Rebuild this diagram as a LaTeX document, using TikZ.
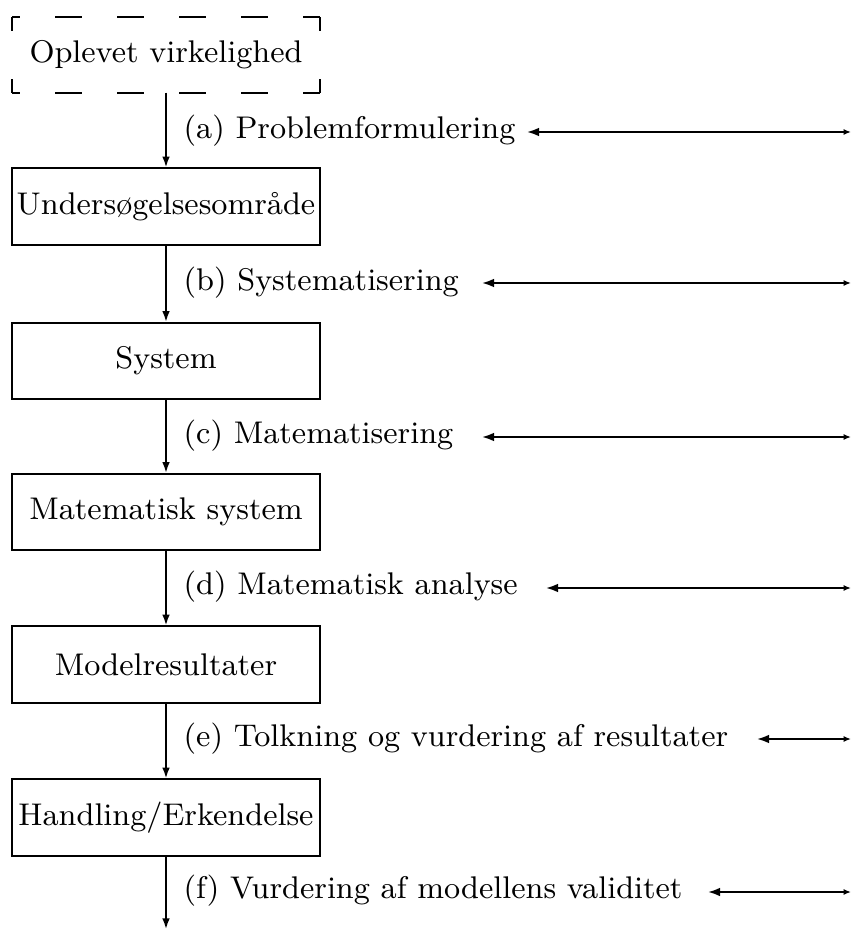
\documentclass[tikz,border=0pt]{standalone}
\usetikzlibrary{arrows.meta}
\begin{document}
\begin{tikzpicture}[x=0.3pt,y=-0.3pt,
  txt/.style={font=\fontsize{9.4}{11}\selectfont},
  box/.style={txt,draw,line width=0.55pt,minimum width=92.4pt,minimum height=23pt,inner sep=0pt},
  dbox/.style={txt,minimum width=91.8pt,minimum height=22.2pt,inner sep=0pt},
  lab/.style={txt,anchor=west,inner sep=0pt},
  flow/.style={line width=0.5pt,-{Latex[length=3.2pt,width=2.3pt]}},
  back/.style={line width=0.6pt,{Latex[length=3.6pt,width=2.6pt]}-{Latex[length=2.2pt,width=1.8pt]}},
  dsh/.style={line width=0.55pt,dash pattern=on 8.1pt off 10.5pt,dash phase=5.7pt}]
\useasboundingbox (0,0) rectangle (852,929);
% boxes
\node[dbox] (o) at (166,55) {Oplevet virkelighed};
\draw[dsh] (o.north west) -- (o.north east);
\draw[dsh] (o.south west) -- (o.south east);
\draw[line width=0.55pt] (o.north west) -- ++(0,14);
\draw[line width=0.55pt] (o.north east) -- ++(0,14);
\draw[line width=0.55pt] (o.south west) -- ++(0,-14);
\draw[line width=0.55pt] (o.south east) -- ++(0,-14);
\node[box] (u) at (166,206.5) {Unders\o gelsesomr\aa de};
\node[box] (s) at (166,361) {System};
\node[box] (m) at (166,512) {Matematisk system};
\node[box] (r) at (166,664.5) {Modelresultater};
\node[box] (h) at (166,817.5) {Handling/Erkendelse};
\coordinate (end) at (166,929);
% flow arrows
\draw[flow] (o.south) -- (u.north);
\draw[flow] (u.south) -- (s.north);
\draw[flow] (s.south) -- (m.north);
\draw[flow] (m.south) -- (r.north);
\draw[flow] (r.south) -- (h.north);
\draw[flow] (h.south) -- (end);
% labels
\node[lab] (la) at (183,131) {(a) Problemformulering};
\node[lab] (lb) at (183,283) {(b) Systematisering};
\node[lab] (lc) at (183,436) {(c) Matematisering};
\node[lab] (ld) at (183,587) {(d) Matematisk analyse};
\node[lab] (le) at (183,739) {(e) Tolkning og vurdering af resultater};
\node[lab] (lf) at (183,891) {(f) Vurdering af modellens validitet};
% right arrows
\coordinate (ta) at (527,132); \coordinate (ea) at (851,132);
\coordinate (tb) at (482,283); \coordinate (eb) at (851,283);
\coordinate (tc) at (482,437); \coordinate (ec) at (851,437);
\coordinate (td) at (546,588); \coordinate (ed) at (851,588);
\coordinate (te) at (757,739); \coordinate (ee) at (851,739);
\coordinate (tf) at (708,892); \coordinate (ef) at (851,892);
\draw[back] (ta) -- (ea);
\draw[back] (tb) -- (eb);
\draw[back] (tc) -- (ec);
\draw[back] (td) -- (ed);
\draw[back] (te) -- (ee);
\draw[back] (tf) -- (ef);
\end{tikzpicture}
\end{document}
